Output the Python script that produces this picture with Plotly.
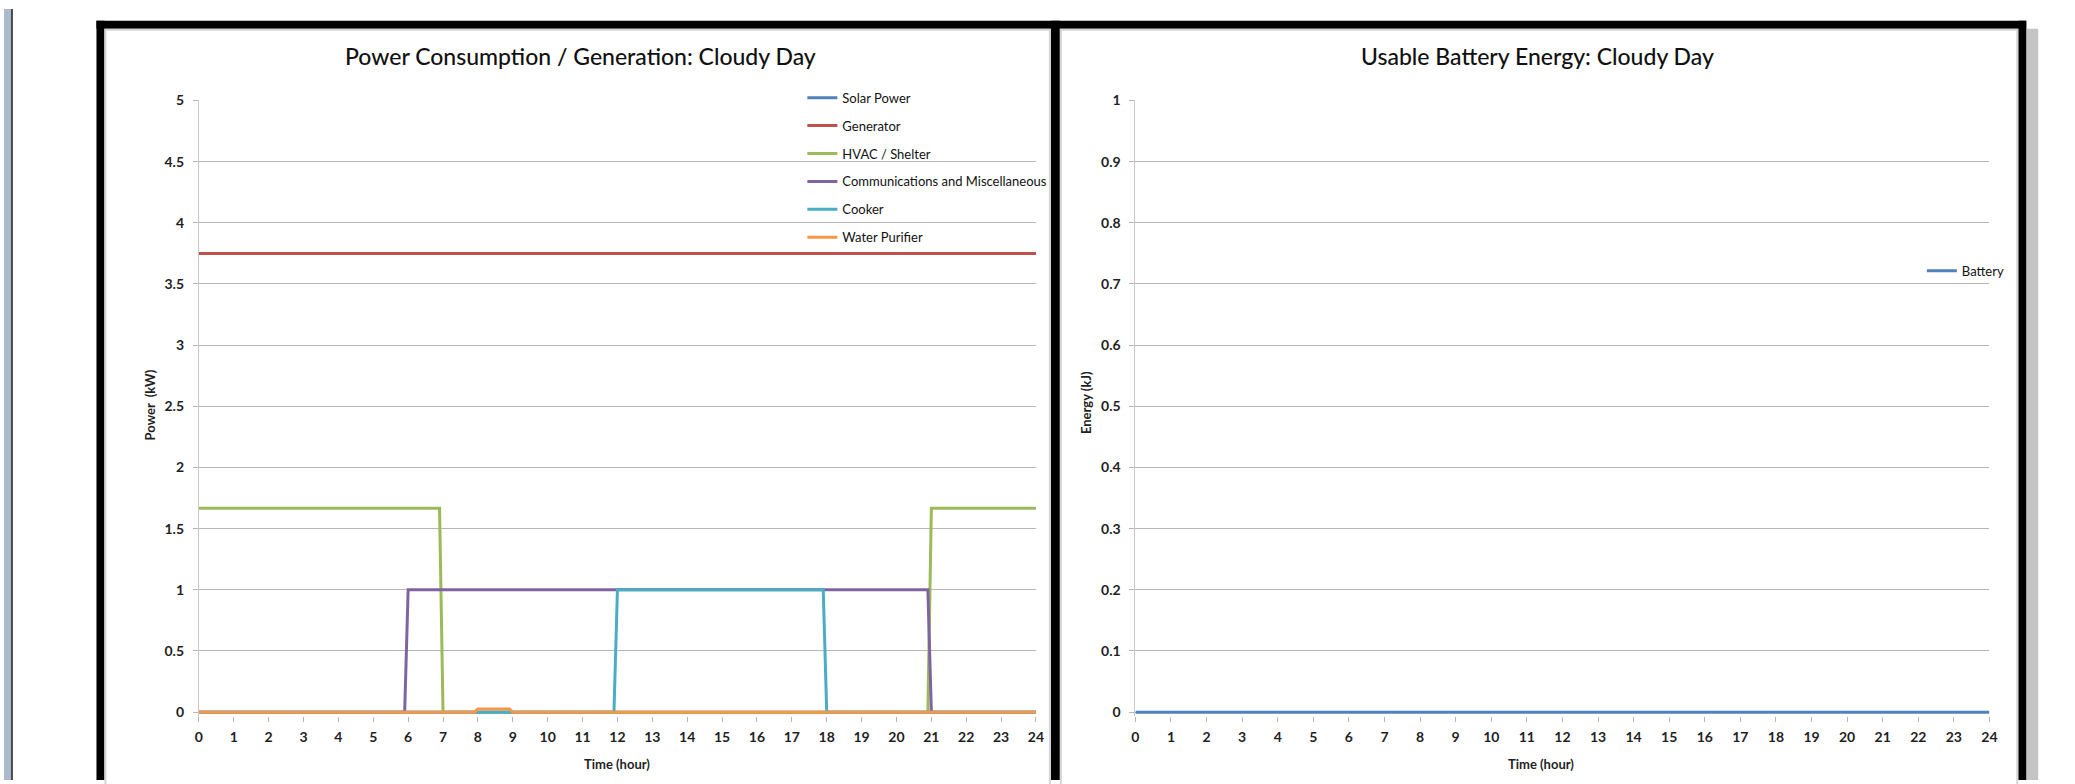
import plotly.graph_objects as go

W, H = 2075, 784

# ---- Power consumption / generation on a cloudy day (kW vs hour) ----
solar_t = [0, 24]
solar_kw = [0, 0]

generator_t = [0, 24]
generator_kw = [3.75, 3.75]

hvac_t = [0, 6.9, 7.0, 20.9, 21.0, 24]
hvac_kw = [1.667, 1.667, 0, 0, 1.667, 1.667]

comms_t = [0, 5.9, 6.0, 20.9, 21.0, 24]
comms_kw = [0, 0, 1.0, 1.0, 0, 0]

cooker_t = [0, 11.9, 12.0, 17.9, 18.0, 24]
cooker_kw = [0, 0, 1.0, 1.0, 0, 0]

purifier_t = [0, 7.9, 8.0, 8.9, 9.0, 24]
purifier_kw = [0, 0, 0.025, 0.025, 0, 0]

# ---- Usable battery energy on a cloudy day (kJ vs hour) ----
battery_t = [0, 24]
battery_kj = [0, 0]

hour_ticks = list(range(0, 25))
power_ticks = [0, 0.5, 1, 1.5, 2, 2.5, 3, 3.5, 4, 4.5, 5]
power_tick_text = ["0", "0.5", "1", "1.5", "2", "2.5", "3", "3.5", "4", "4.5", "5"]
energy_ticks = [0, 0.1, 0.2, 0.3, 0.4, 0.5, 0.6, 0.7, 0.8, 0.9, 1]
energy_tick_text = ["0", "0.1", "0.2", "0.3", "0.4", "0.5", "0.6", "0.7", "0.8", "0.9", "1"]

power_series = [
    ("Solar Power", solar_t, solar_kw, "#4F81BD"),
    ("Generator", generator_t, generator_kw, "#C0504D"),
    ("HVAC / Shelter", hvac_t, hvac_kw, "#9BBB59"),
    ("Communications and Miscellaneous", comms_t, comms_kw, "#8064A2"),
    ("Cooker", cooker_t, cooker_kw, "#4BACC6"),
    ("Water Purifier", purifier_t, purifier_kw, "#F79646"),
]

TXT = "#1f1f1f"
GRID = "#b6b6b6"
FONT = "Lato, 'Open Sans', sans-serif"


def px(x):
    return x / W


def py(y):
    return 1 - y / H


fig = go.Figure()

for i, (name, t, v, color) in enumerate(power_series):
    fig.add_trace(go.Scatter(
        x=t, y=v, name=name, mode="lines",
        line=dict(color=color, width=3),
        xaxis="x", yaxis="y", legend="legend",
        legendgroup=f"g{i}",
    ))

fig.add_trace(go.Scatter(
    x=battery_t, y=battery_kj, name="Battery", mode="lines",
    line=dict(color="#4F81BD", width=3),
    xaxis="x2", yaxis="y2", legend="legend2",
))

# plot areas in pixels: left 196..1038, right 1138..1997, y 93 (top) .. 715 (zero)
left_x0, left_x1 = 196, 1038
right_x0, right_x1 = 1138, 1997
top_y, zero_y, pad = 93, 715, 4
power_unit = (zero_y - top_y) / 5.0
energy_unit = (zero_y - top_y) / 1.0

tick_font = dict(family=FONT, size=14, color=TXT, weight="bold")

common_x = dict(
    range=[0, 24], tickmode="array", tickvals=hour_ticks,
    ticktext=[str(h) for h in hour_ticks],
    showgrid=False, showline=False, zeroline=False,
    ticks="outside", ticklen=5, tickcolor=GRID, tickwidth=1,
    tickfont=tick_font, fixedrange=True, ticklabelstandoff=3,
)
common_y = dict(
    showgrid=True, gridcolor=GRID, gridwidth=1.4,
    showline=True, linecolor="#c8c8c8", linewidth=1,
    zeroline=True, zerolinecolor=GRID, zerolinewidth=1.4,
    ticks="outside", ticklen=5, tickcolor=GRID, tickwidth=1,
    tickfont=tick_font, fixedrange=True, ticklabelstandoff=6,
)

legend_font = dict(family=FONT, size=13, color="#111111")

fig.update_layout(
    width=W, height=H,
    margin=dict(l=0, r=0, t=0, b=0),
    paper_bgcolor="white", plot_bgcolor="rgba(0,0,0,0)",
    font=dict(family=FONT, color=TXT),
    xaxis=dict(common_x, domain=[px(left_x0), px(left_x1)], anchor="y"),
    yaxis=dict(common_y, domain=[py(zero_y + pad), py(top_y)], anchor="x",
               range=[-pad / power_unit, 5], tickvals=power_ticks,
               ticktext=power_tick_text),
    xaxis2=dict(common_x, domain=[px(right_x0), px(right_x1)], anchor="y2"),
    yaxis2=dict(common_y, domain=[py(zero_y + pad), py(top_y)], anchor="x2",
                range=[-pad / energy_unit, 1], tickvals=energy_ticks,
                ticktext=energy_tick_text),
    legend=dict(
        x=px(803), y=py(75), xanchor="left", yanchor="top",
        bgcolor="rgba(0,0,0,0)", borderwidth=0,
        font=legend_font,
        itemwidth=30, tracegroupgap=8, traceorder="grouped",
    ),
    legend2=dict(
        x=px(1929), y=py(251), xanchor="left", yanchor="top",
        bgcolor="rgba(0,0,0,0)", borderwidth=0,
        font=legend_font,
        itemwidth=30,
    ),
    showlegend=True,
)

shapes = []
# slide edge strip on the left
shapes.append(dict(type="rect", xref="paper", yref="paper", x0=0, x1=px(7),
                   y0=0, y1=1, fillcolor="#aabacb", line=dict(width=0), layer="below"))
shapes.append(dict(type="rect", xref="paper", yref="paper", x0=px(7), x1=px(9),
                   y0=0, y1=1, fillcolor="#4a4a4a", line=dict(width=0), layer="below"))
# drop shadow to the right of the frame
shapes.append(dict(type="rect", xref="paper", yref="paper", x0=px(2034), x1=px(2046),
                   y0=0, y1=py(20), fillcolor="#c4c4c4", line=dict(width=0), layer="below"))
# black frame around both charts, with a divider between them
for x0, x1, y0, y1 in [
    (93, 2034, 12, 20),      # top bar
    (93, 101, 12, H),        # left bar
    (2026, 2034, 12, H),     # right bar
    (1053, 1062, 12, H),     # divider
]:
    shapes.append(dict(type="rect", xref="paper", yref="paper",
                       x0=px(x0), x1=px(x1), y0=py(y1), y1=py(y0),
                       fillcolor="black", line=dict(width=0), layer="below"))
# thin light inner borders of each chart area
for x0, x1 in [(101, 1053), (1062, 2026)]:
    shapes.append(dict(type="rect", xref="paper", yref="paper",
                       x0=px(x0 + 1), x1=px(x1 - 1), y0=py(H + 5), y1=py(21),
                       fillcolor="rgba(0,0,0,0)", line=dict(color="#d4d4d4", width=2),
                       layer="below"))
fig.update_layout(shapes=shapes)

annotations = [
    dict(text="Power Consumption / Generation: Cloudy Day", x=px(580), y=py(48),
         font=dict(family=FONT, size=23, color="#111111", weight=500)),
    dict(text="Usable Battery Energy: Cloudy Day", x=px(1542), y=py(48),
         font=dict(family=FONT, size=23, color="#111111", weight=500)),
    dict(text="Time (hour)", x=px(617), y=py(768),
         font=dict(family=FONT, size=13, color=TXT, weight="bold")),
    dict(text="Time (hour)", x=px(1546), y=py(768),
         font=dict(family=FONT, size=13, color=TXT, weight="bold")),
    dict(text="Power  (kW)", x=px(147), y=py(403), textangle=-90,
         font=dict(family=FONT, size=13, color=TXT, weight="bold")),
    dict(text="Energy (kJ)", x=px(1089), y=py(400), textangle=-90,
         font=dict(family=FONT, size=13, color=TXT, weight="bold")),
]
for a in annotations:
    a.update(xref="paper", yref="paper", showarrow=False,
             xanchor="center", yanchor="middle")
fig.update_layout(annotations=annotations)

fig.write_html("out.html")
